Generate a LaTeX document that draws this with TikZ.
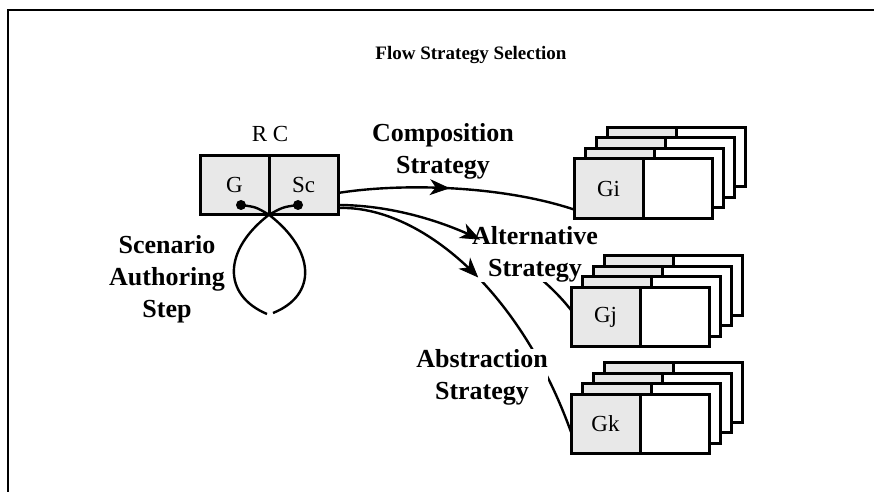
\documentclass[tikz,border=0pt]{standalone}
\usepackage{fontspec}
\setmainfont{Liberation Serif}
\usetikzlibrary{arrows.meta,decorations.markings,calc}
\definecolor{cardgray}{RGB}{232,232,232}

\tikzset{
  half/.style={draw, line width=1.5pt, rectangle, minimum width=34.5pt,
    minimum height=29.75pt, inner sep=0pt, outer sep=0pt,
    font=\fontsize{11.5}{13}\selectfont},
  halfL/.style={half, fill=cardgray},
  halfR/.style={half, fill=white},
  lbl/.style={font=\fontsize{13}{16}\selectfont\bfseries, align=center,
    fill=white, inner sep=0pt},
  conn/.style={line width=1.2pt},
  tipmark/.style={decoration={markings, mark=at position #1 with
      {\arrow{Stealth[length=10pt,width=8pt,inset=3pt]}}},
    postaction={decorate}},
  dot/.style={circle, fill=black, inner sep=0pt, minimum size=5pt},
  % a stack of four two-part cards, the front one labelled
  cardstack/.pic={
    \foreach \k in {3,2,1}{
      \node[halfL] (-b\k) at (11*\k,-10.5*\k) {};
      \node[halfR] (-b\k r) at (11*\k+69,-10.5*\k) {};
    }
    \node[halfL] (-f) at (0,0) {#1};
    \node[halfR] (-fr) at (69,0) {};
  }
}

\begin{document}
\begin{tikzpicture}[x=0.5pt,y=-0.5pt]
\useasboundingbox (0,0) rectangle (874,492);

% outer frame
\draw[line width=1.4pt] (8,492) -- (8,10) -- (874,10);

% title
\node[font=\fontsize{9.5}{11}\selectfont\bfseries] (title) at (471,55) {Flow Strategy Selection};

% the RC box with its two halves
\node[font=\fontsize{11.5}{13}\selectfont] (rc) at (270,134) {R C};
\node[halfL] (g) at (234.5,185) {G};
\node[halfL] (sc) at (303.5,185) {Sc};

% front-card centres of the three stacks
\coordinate (gipos) at (608.5,188.5);
\coordinate (gjpos) at (605.5,317);
\coordinate (gkpos) at (605.5,424);

% scenario authoring loop
\node[dot] (dl) at (241,205) {};
\node[dot] (dr) at (298,205) {};
\coordinate (jn) at (g.south east);
\coordinate (loopR) at (273,313);
\coordinate (loopL) at (267,314);
\draw[conn] (dl.center) .. controls (256,207) .. (jn)
  .. controls (315,250) and (318,295) .. (loopR);
\draw[conn] (dr.center) .. controls (283,207) .. (jn)
  .. controls (223,250) and (222,295) .. (loopL);

% strategy connectors, ending on the left edge of each front card
\coordinate (s1) at ($(sc.east)+(0,8)$);
\coordinate (s2) at ($(sc.east)+(0,20)$);
\coordinate (s3) at ($(sc.east)+(0,23)$);
\coordinate (e1) at ($(gipos)+(-34.5,21)$);
\coordinate (e2) at ($(gjpos)+(-34.5,-7)$);
\coordinate (e3) at ($(gkpos)+(-34.5,8)$);
\draw[conn] (s1) .. controls (400,183) and (500,185) .. (e1);
\draw[conn] (s2) .. controls (420,205) and (520,245) .. (e2);
\draw[conn] (s3) .. controls (420,205) and (520,290) .. (e3);

% labels
\node[lbl] (sas) at (167,279) {Scenario\\Authoring\\Step};
\node[lbl] (comp) at (443,151) {Composition\\Strategy};
\node[lbl] (alt) at (535,254) {Alternative\\Strategy};
\node[lbl] (abs) at (482,377) {Abstraction\\Strategy};

% card stacks
\pic (gi) at (gipos) {cardstack=Gi};
\pic (gj) at (gjpos) {cardstack=Gj};
\pic (gk) at (gkpos) {cardstack=Gk};

% arrowheads on top of the labels
\path[tipmark=0.47] (s1) .. controls (400,183) and (500,185) .. (e1);
\path[tipmark=0.56] (s2) .. controls (420,205) and (520,245) .. (e2);
\path[tipmark=0.47] (s3) .. controls (420,205) and (520,290) .. (e3);
\end{tikzpicture}
\end{document}
